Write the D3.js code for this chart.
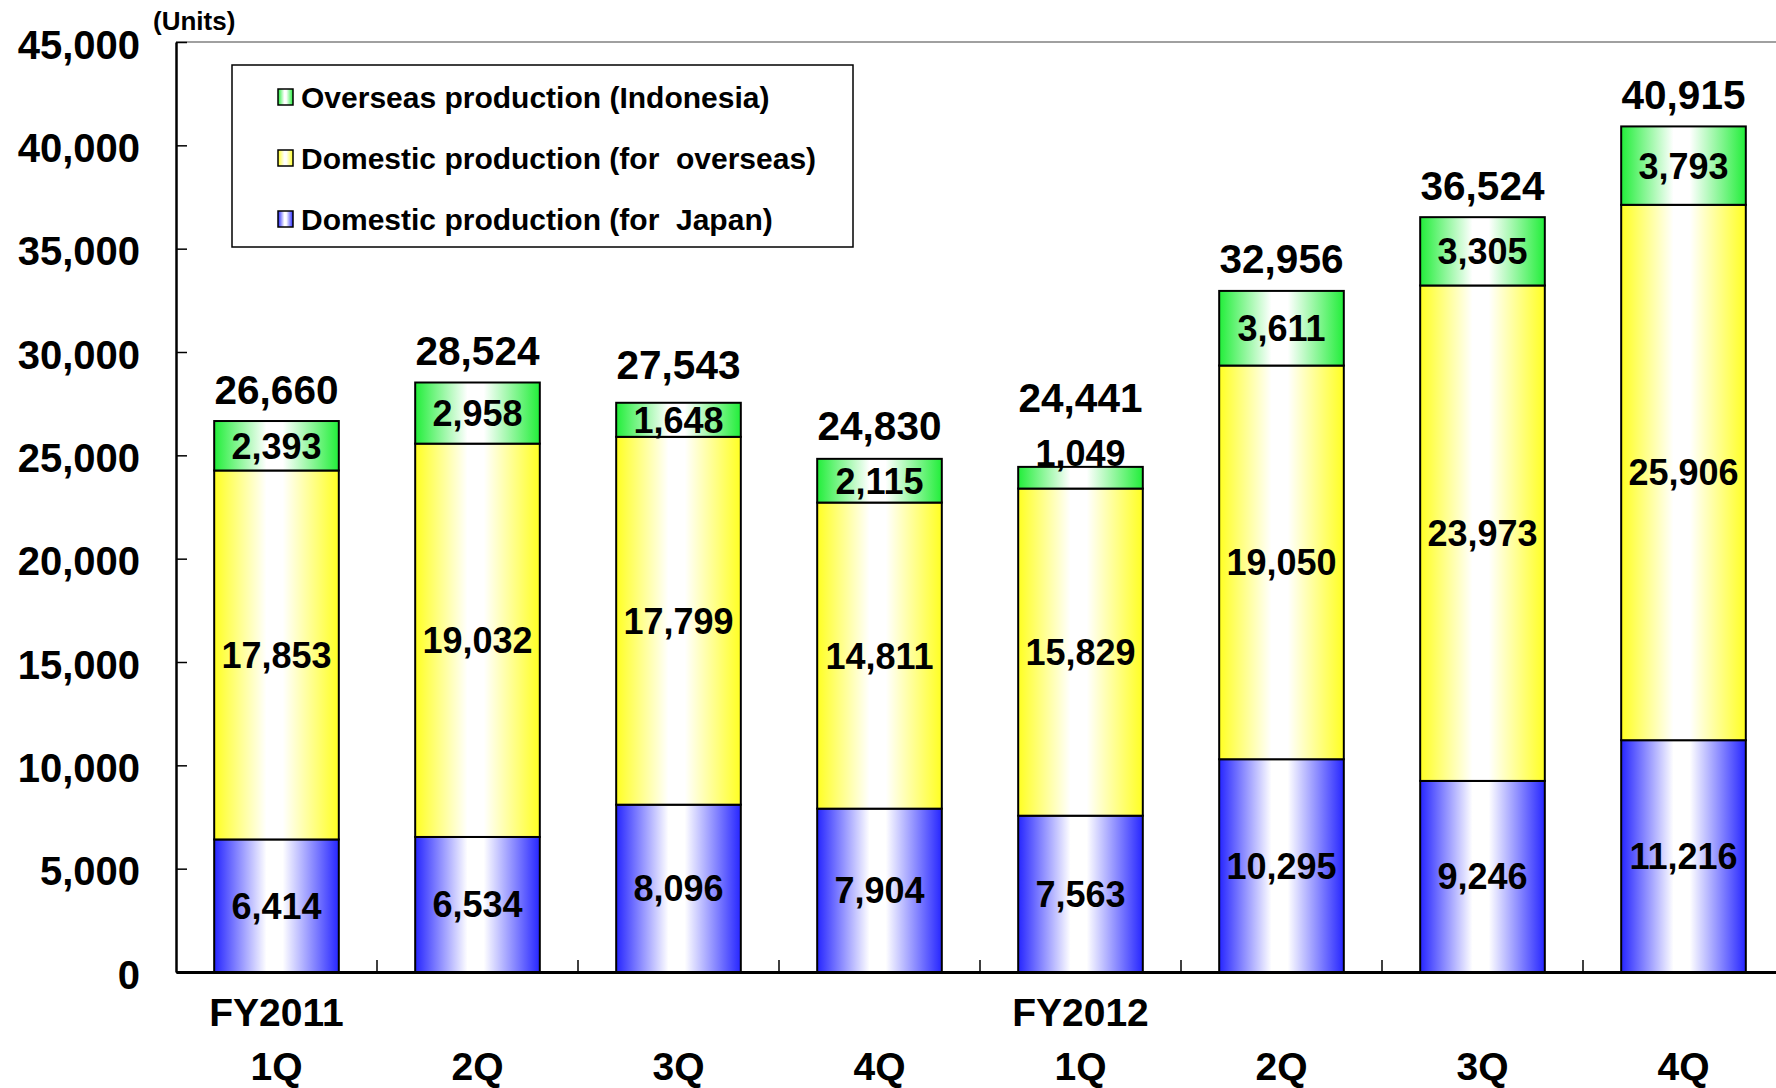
<!DOCTYPE html>
<html>
<head>
<meta charset="utf-8">
<script src="https://cdn.jsdelivr.net/npm/d3@7"></script>
<style>
  body { margin: 0; background: #fff; }
  svg { display: block; font-family: "Liberation Sans", Arial, sans-serif; font-weight: bold; }
</style>
</head>
<body>
<div class="chart"></div>
<script>
// data
var quarters = ["1Q", "2Q", "3Q", "4Q", "1Q", "2Q", "3Q", "4Q"];
var fiscalYears = ["FY2011", "", "", "", "FY2012", "", "", ""];
var forJapan = [6414, 6534, 8096, 7904, 7563, 10295, 9246, 11216];
var forOverseas = [17853, 19032, 17799, 14811, 15829, 19050, 23973, 25906];
var indonesia = [2393, 2958, 1648, 2115, 1049, 3611, 3305, 3793];
var seriesNames = ["Domestic production (for  Japan)", "Domestic production (for  overseas)", "Overseas production (Indonesia)"];
var yTicks = [0, 5000, 10000, 15000, 20000, 25000, 30000, 35000, 40000, 45000];

var width = 1776, height = 1088;
var plotLeft = 176, plotRight = 1784, plotTop = 42, plotBottom = 972;

var svg = d3.select("div.chart").append("svg")
  .attr("width", width)
  .attr("height", height);

var seriesColors = ["#2626ff", "#ffff22", "#22ee3a"];

// horizontal gradients, colour at edges and white in the middle
var defs = svg.append("defs");
seriesColors.forEach(function (c, i) {
  var g = defs.append("linearGradient")
    .attr("id", "grad" + i)
    .attr("x1", 0).attr("x2", 1).attr("y1", 0).attr("y2", 0);
  g.append("stop").attr("offset", "0%").attr("stop-color", c);
  g.append("stop").attr("offset", "42%").attr("stop-color", "#ffffff");
  g.append("stop").attr("offset", "55%").attr("stop-color", "#ffffff");
  g.append("stop").attr("offset", "100%").attr("stop-color", c);
});

var idx = d3.range(quarters.length);

var x = d3.scaleBand()
  .domain(idx)
  .range([plotLeft, plotRight])
  .paddingInner(0.38)
  .paddingOuter(0.19);

var y = d3.scaleLinear()
  .domain([0, 45000])
  .range([plotBottom, plotTop]);

// top border of plot area
svg.append("line")
  .attr("x1", plotLeft).attr("x2", plotRight)
  .attr("y1", y(45000)).attr("y2", y(45000))
  .attr("stroke", "#808080")
  .attr("stroke-width", 1.5);

// stacked data
var table = idx.map(function (i) {
  return { i: i, japan: forJapan[i], overseas: forOverseas[i], indonesia: indonesia[i] };
});
var stack = d3.stack().keys(["japan", "overseas", "indonesia"]);
var layers = stack(table);

var layerG = svg.selectAll(".layer")
  .data(layers)
  .enter().append("g")
  .attr("class", "layer")
  .attr("fill", function (d, k) { return "url(#grad" + k + ")"; });

layerG.selectAll("rect")
  .data(function (d) { return d; })
  .enter().append("rect")
  .attr("x", function (d) { return x(d.data.i); })
  .attr("y", function (d) { return y(d[1]); })
  .attr("width", x.bandwidth())
  .attr("height", function (d) { return y(d[0]) - y(d[1]); })
  .attr("stroke", "#000")
  .attr("stroke-width", 2);

// segment value labels
var fmt = d3.format(",");
var innerLabelY = [];
layers.forEach(function (layer, k) {
  layer.forEach(function (d, i) {
    var yTop = y(d[1]), yBot = y(d[0]);
    var cy = (yTop + yBot) / 2;
    // a thin segment gets its label pushed up over the top edge
    if (yBot - yTop < 30) cy = yTop - 14;
    if (k === 2) innerLabelY[i] = cy;
    svg.append("text")
      .attr("x", x(i) + x.bandwidth() / 2)
      .attr("y", cy)
      .attr("dy", "0.36em")
      .attr("text-anchor", "middle")
      .style("font-size", "36px")
      .text(fmt(d[1] - d[0]));
  });
});

// totals above bars
idx.forEach(function (i) {
  var total = forJapan[i] + forOverseas[i] + indonesia[i];
  var cy = Math.min(y(total) - 32, innerLabelY[i] - 55);
  svg.append("text")
    .attr("x", x(i) + x.bandwidth() / 2)
    .attr("y", cy)
    .attr("dy", "0.36em")
    .attr("text-anchor", "middle")
    .style("font-size", "40.5px")
    .text(fmt(total));
});

// y axis
var yAxis = svg.append("g")
  .attr("transform", "translate(" + plotLeft + ",0)")
  .call(d3.axisLeft(y)
    .tickValues(yTicks)
    .tickFormat(fmt)
    .tickSize(-11)
    .tickSizeOuter(0)
    .tickPadding(36));
yAxis.select(".domain").attr("stroke", "#000").attr("stroke-width", 2.5);
yAxis.selectAll(".tick line").attr("stroke", "#000").attr("stroke-width", 1.5);
yAxis.selectAll(".tick text")
  .attr("fill", "#000")
  .attr("dy", "0.4em")
  .style("font-size", "40px")
  .style("font-family", "Liberation Sans, Arial, sans-serif")
  .style("font-weight", "bold");

// x axis
var xAxis = svg.append("g")
  .attr("transform", "translate(0," + plotBottom + ")")
  .call(d3.axisBottom(x)
    .tickFormat(function (i) { return quarters[i]; })
    .tickSize(0)
    .tickPadding(80));
xAxis.select(".domain").attr("stroke", "#000").attr("stroke-width", 3);
xAxis.selectAll(".tick text")
  .attr("fill", "#000")
  .style("font-size", "39px")
  .style("font-family", "Liberation Sans, Arial, sans-serif")
  .style("font-weight", "bold");

// category separator ticks
svg.selectAll(".sep")
  .data(idx.slice(1))
  .enter().append("line")
  .attr("class", "sep")
  .attr("x1", function (i) { return x(i) - x.step() * x.paddingInner() / 2; })
  .attr("x2", function (i) { return x(i) - x.step() * x.paddingInner() / 2; })
  .attr("y1", plotBottom)
  .attr("y2", plotBottom - 12)
  .attr("stroke", "#000")
  .attr("stroke-width", 1.5);

// fiscal year labels
svg.selectAll(".fy")
  .data(idx.filter(function (i) { return fiscalYears[i] !== ""; }))
  .enter().append("text")
  .attr("class", "fy")
  .attr("x", function (i) { return x(i) + x.bandwidth() / 2; })
  .attr("y", 1012)
  .attr("dy", "0.36em")
  .attr("text-anchor", "middle")
  .style("font-size", "39px")
  .text(function (i) { return fiscalYears[i]; });

// units label
svg.append("text")
  .attr("x", 153)
  .attr("y", 21)
  .attr("dy", "0.36em")
  .style("font-size", "26px")
  .text("(Units)");

// legend
var legend = svg.append("g").attr("class", "legend");
legend.append("rect")
  .attr("x", 232).attr("y", 65)
  .attr("width", 621).attr("height", 182)
  .attr("fill", "#fff")
  .attr("stroke", "#000")
  .attr("stroke-width", 1.5);

var legendOrder = [2, 1, 0];
var legendRows = [97, 158, 219];
legendOrder.forEach(function (k, r) {
  legend.append("rect")
    .attr("x", 278).attr("y", legendRows[r] - 8)
    .attr("width", 15).attr("height", 16)
    .attr("fill", "url(#grad" + k + ")")
    .attr("stroke", "#000")
    .attr("stroke-width", 1.5);
  legend.append("text")
    .attr("x", 301).attr("y", legendRows[r])
    .attr("dy", "0.36em")
    .style("font-size", "30px")
    .style("white-space", "pre")
    .attr("xml:space", "preserve")
    .text(seriesNames[k]);
});
</script>
</body>
</html>
